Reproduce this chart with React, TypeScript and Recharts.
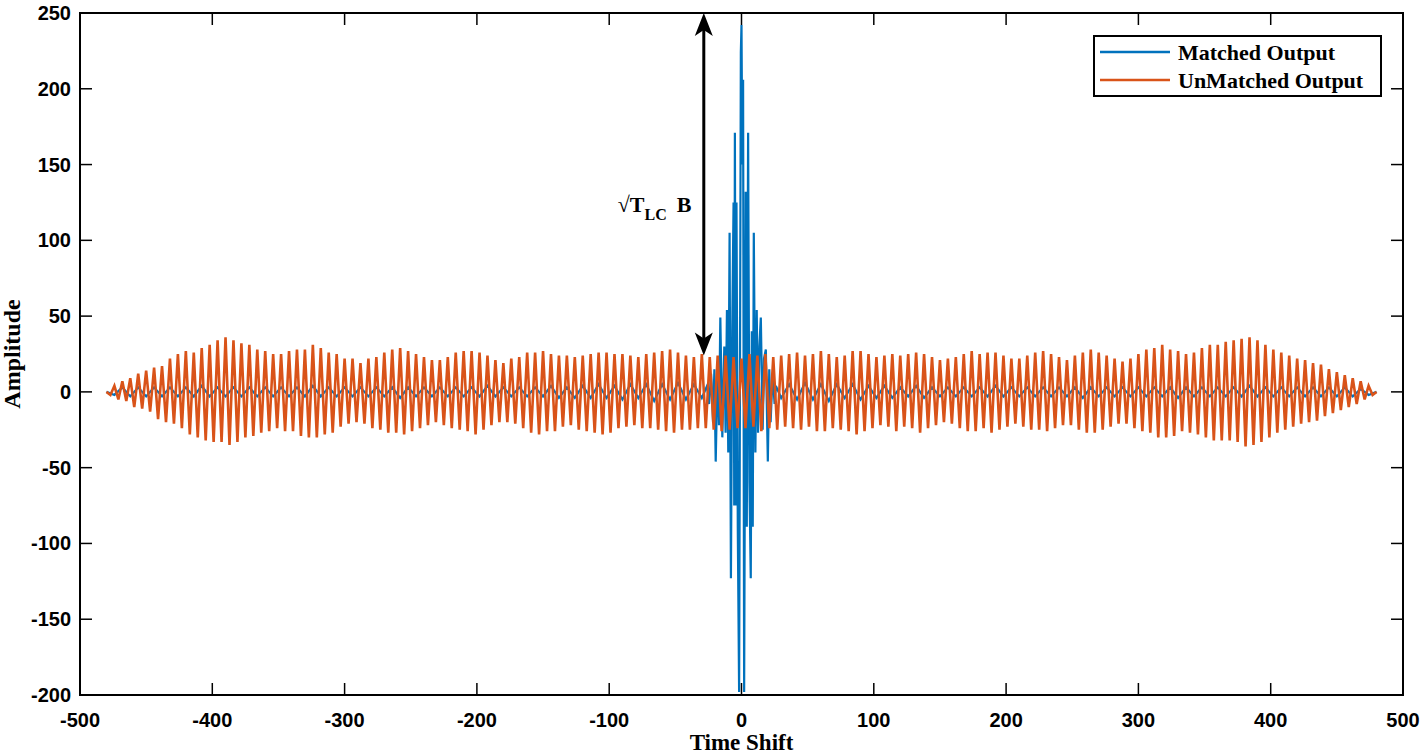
import React from "react";
import {
  LineChart,
  Line,
  XAxis,
  YAxis,
  ReferenceArea,
  ReferenceLine,
  ReferenceDot,
  Legend,
} from "recharts";

const xTicks = [-500, -400, -300, -200, -100, 0, 100, 200, 300, 400, 500];
const yTicks = [-200, -150, -100, -50, 0, 50, 100, 150, 200, 250];

// UnMatched output: one value every 3 shifts, starting at -480
const unmatchedStart = -480;
const unmatchedStep = 3;
const unmatchedValues = [
  0, -2, 4, -5, 7, -6, 9, -10, 12, -11, 14, -13, 16, -18, 17, -20, 22, -21, 25, -24,
  27, -28, 26, -30, 29, -32, 31, -33, 34, -33, 36, -35, 34, -33, 32, -30, 31, -29, 28, -27,
  27, -26, 25, -24, 25, -26, 27, -26, 28, -29, 28, -30, 31, -30, 29, -28, 26, -27, 25, -23,
  22, -21, 22, -20, 19, -21, 22, -24, 23, -25, 26, -27, 28, -27, 29, -28, 27, -26, 25, -24,
  23, -22, 21, -20, 21, -22, 23, -24, 26, -25, 27, -26, 27, -28, 26, -25, 24, -22, 21, -20,
  19, -20, 22, -21, 23, -24, 26, -27, 26, -28, 27, -26, 25, -26, 24, -23, 24, -22, 23, -25,
  24, -26, 25, -27, 26, -28, 26, -27, 25, -24, 25, -23, 24, -22, 23, -24, 25, -24, 26, -25,
  27, -26, 28, -27, 26, -25, 24, -25, 23, -24, 25, -24, 23, -25, 24, -26, 24, -25, 23, -24,
  22, -24, 25, -23, 24, -26, 25, -24, 23, -25, 24, -23, 25, -24, 26, -25, 24, -23, 25, -26,
  27, -26, 25, -24, 23, -25, 24, -26, 27, -28, 27, -26, 25, -24, 23, -22, 24, -23, 25, -26,
  24, -23, 25, -24, 26, -27, 25, -24, 23, -22, 21, -20, 22, -21, 23, -24, 25, -26, 27, -26,
  25, -24, 26, -27, 26, -25, 24, -23, 22, -21, 22, -23, 24, -25, 26, -25, 27, -26, 25, -24,
  23, -22, 21, -22, 24, -25, 26, -27, 28, -27, 26, -25, 24, -23, 22, -21, 20, -21, 22, -24,
  25, -26, 28, -27, 29, -30, 31, -30, 28, -29, 27, -26, 25, -27, 26, -28, 29, -30, 31, -32,
  31, -32, 33, -32, 34, -33, 35, -36, 36, -35, 34, -33, 31, -30, 28, -27, 26, -25, 24, -23,
  22, -21, 21, -20, 19, -19, 18, -16, 15, -14, 13, -12, 11, -10, 9, -8, 7, -5, 4, -2,
  0,
];

// Matched output away from the peak: one value every 6 shifts
const matchedLeftStart = -480;
const matchedRightStart = 30;
const matchedStep = 6;
const matchedLeft = [
  0, -2, 3, -3, 3, -3, 3, -3, 3, -3, 3, -3, 4, -3, 3, -3, 3, -3, 3,
  -3, 3, -3, 3, -3, 3, -3, 4, -3, 3, -3, 3, -3, 3, -3, 3, -3, 3, -4,
  3, -3, 3, -3, 3, -3, 3, -3, 3, -3, 4, -3, 3, -3, 3, -3, 3, -3, 4,
  -4, 3, -4, 4, -4, 5, -4, 4, -5, 5, -4, 5, -6, 5, -5, 6, -5, 5, -4,
];
const matchedRight = [
  -4, 5, -5, 6, -5, 5, -6, 5, -4, 5, -5, 4, -4, 4, -4, 3, -3, 4, -4,
  3, -3, 3, -3, 3, -3, 3, -3, 4, -3, 3, -3, 3, -3, 3, -3, 3, -3, 3,
  -4, 3, -3, 3, -3, 3, -3, 3, -3, 3, -3, 3, -4, 3, -3, 3, -3, 3, -3,
  3, -3, 4, -3, 3, -3, 3, -3, 3, -3, 3, -3, 3, -3, 3, -3, 2, -2, 0,
];

// Matched output around the compressed peak
const peakShift = [
  -26, -24.5, -23, -21.5, -20.5, -19.5, -18, -17, -16, -14.5, -13, -12, -11, -10, -9, -8,
  -7, -6, -5.5, -5, -4.3, -3.8, -2.8, -1.8, -0.5, 0, 0.6, 1.2, 2, 3.2, 4, 5, 6, 7, 7.8,
  8.5, 9.3, 10.5, 11.5, 12.5, 13.5, 14.6, 16, 17, 18.4, 19.9, 21, 22, 23.5, 25, 26,
];
const peakValue = [
  4, -8, 12, -20, 15, -46, 20, -22, 49, -30, 30, -27, 54, -40, 105, -123,
  40, 125, -75, 171, -75, 125, -90, -198, 224, 242, 150, 206, -198, 132, -89, 171, -60, -123, 40,
  -89, 105, -40, 54, -27, 30, 49, -25, 22, 28, -46, 15, -20, 12, -8, 4,
];

// sqrt(T_LC B) annotation
const arrowShift = -28.5;
const arrowTop = 250;
const arrowBottom = 24;
const noteShift = -93.5;
const noteAmp = 119;

const unmatched = unmatchedValues.map((v, i) => ({ x: unmatchedStart + i * unmatchedStep, y: v }));
const matched = [
  ...matchedLeft.map((v, i) => ({ x: matchedLeftStart + i * matchedStep, y: v })),
  ...peakShift.map((s, i) => ({ x: s, y: peakValue[i] })),
  ...matchedRight.map((v, i) => ({ x: matchedRightStart + i * matchedStep, y: v })),
];

const PLOT_TOP = 13;
const PLOT_RIGHT = 1403;
const TICK = 12;
const tickFont = { fontFamily: "'Liberation Sans', Arial, sans-serif", fontSize: 20, fontWeight: 700 };
const serif = "'Liberation Serif', 'Times New Roman', serif";

const XTick = (props: any) => {
  const { x, y, payload } = props;
  return (
    <g>
      <line x1={x} x2={x} y1={y} y2={y - TICK} stroke="#000" strokeWidth={1.5} />
      <line x1={x} x2={x} y1={PLOT_TOP} y2={PLOT_TOP + TICK} stroke="#000" strokeWidth={1.5} />
      <text x={x} y={y + 32} textAnchor="middle" fill="#000" {...tickFont}>
        {payload.value}
      </text>
    </g>
  );
};

const YTick = (props: any) => {
  const { x, y, payload } = props;
  return (
    <g>
      <line x1={x} x2={x + TICK} y1={y} y2={y} stroke="#000" strokeWidth={1.5} />
      <line x1={PLOT_RIGHT} x2={PLOT_RIGHT - TICK} y1={y} y2={y} stroke="#000" strokeWidth={1.5} />
      <text x={x - 9} y={y + 7} textAnchor="end" fill="#000" {...tickFont}>
        {payload.value}
      </text>
    </g>
  );
};

const XTitle = (props: any) => {
  const vb = props.viewBox || { x: 80, width: 1323 };
  return (
    <text x={vb.x + vb.width / 2} y={750} textAnchor="middle" fill="#000"
      fontFamily={serif} fontSize={23} fontWeight={700}>
      Time Shift
    </text>
  );
};

const YTitle = (props: any) => {
  const vb = props.viewBox || { y: 13, height: 682 };
  const cy = vb.y + vb.height / 2;
  return (
    <text x={12} y={cy} transform={`rotate(-90, 12, ${cy})`} textAnchor="middle"
      dominantBaseline="central" fill="#000" fontFamily={serif} fontSize={24} fontWeight={700}>
      Amplitude
    </text>
  );
};

const Arrow = (props: any) => {
  const { x1, y1, x2, y2 } = props;
  const top = Math.min(y1, y2);
  const bot = Math.max(y1, y2);
  const x = (x1 + x2) / 2;
  return (
    <g>
      <line x1={x} x2={x} y1={top + 14} y2={bot - 14} stroke="#000" strokeWidth={3} />
      <polygon points={`${x},${top} ${x - 9},${top + 23} ${x},${top + 17} ${x + 9},${top + 23}`} fill="#000" />
      <polygon points={`${x},${bot} ${x - 9},${bot - 23} ${x},${bot - 17} ${x + 9},${bot - 23}`} fill="#000" />
    </g>
  );
};

const Note = (props: any) => {
  const { cx, cy } = props;
  return (
    <text x={cx} y={cy} fill="#000" fontFamily={serif} fontSize={22} fontWeight={700}>
      <tspan>√T</tspan>
      <tspan fontSize={16} dy={8}>LC</tspan>
      <tspan x={cx + 59} dy={-8}>B</tspan>
    </text>
  );
};

const LegendBox = (props: any) => {
  const items = props.payload || [];
  return (
    <svg width={289} height={62} style={{ display: "block" }}>
      <rect x={1} y={1} width={287} height={60} fill="#fff" stroke="#000" strokeWidth={2} />
      {items.map((it: any, i: number) => (
        <g key={it.value}>
          <line x1={7} x2={77} y1={17 + 28 * i} y2={17 + 28 * i} stroke={it.color} strokeWidth={2.5} />
          <text x={85} y={25 + 28 * i} fill="#000" fontFamily={serif} fontSize={22} fontWeight={700}>
            {it.value}
          </text>
        </g>
      ))}
    </svg>
  );
};

export default function App() {
  return (
    <div style={{ position: "absolute", left: 0, top: 0, width: 1424, height: 756, background: "#fff" }}>
      <LineChart width={1424} height={756} margin={{ top: 13, right: 21, left: 0, bottom: 0 }}>
        <XAxis
          type="number"
          dataKey="x"
          domain={[-500, 500]}
          ticks={xTicks}
          tickSize={0}
          tickMargin={0}
          tickLine={false}
          tick={XTick}
          height={61}
          axisLine={{ stroke: "#000", strokeWidth: 2 }}
          label={{ content: XTitle }}
          allowDataOverflow
        />
        <YAxis
          type="number"
          domain={[-200, 250]}
          ticks={yTicks}
          tickSize={0}
          tickMargin={0}
          tickLine={false}
          tick={YTick}
          width={80}
          axisLine={{ stroke: "#000", strokeWidth: 2 }}
          label={{ content: YTitle }}
          allowDataOverflow
        />
        <ReferenceArea x1={-500} x2={500} y1={-200} y2={250} fill="none" stroke="#000" strokeWidth={2} />
        <Line
          data={matched}
          dataKey="y"
          name="Matched Output"
          type="linear"
          stroke="#0072BD"
          strokeWidth={2.2}
          dot={false}
          isAnimationActive={false}
        />
        <Line
          data={unmatched}
          dataKey="y"
          name="UnMatched Output"
          type="linear"
          stroke="#D95319"
          strokeWidth={2.6}
          dot={false}
          isAnimationActive={false}
        />
        <ReferenceLine
          segment={[{ x: arrowShift, y: arrowTop }, { x: arrowShift, y: arrowBottom }]}
          shape={Arrow}
        />
        <ReferenceDot x={noteShift} y={noteAmp} r={0} shape={Note} />
        <Legend
          layout="vertical"
          align="center"
          verticalAlign="middle"
          wrapperStyle={{ left: 1093, top: 35, width: 289, height: 62 }}
          content={LegendBox}
        />
      </LineChart>
    </div>
  );
}
